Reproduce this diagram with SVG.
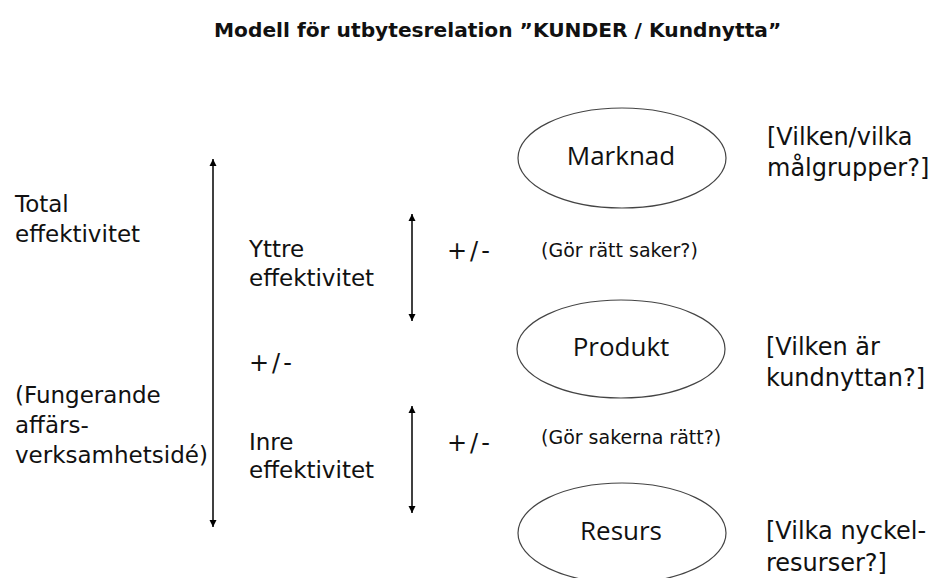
<svg xmlns="http://www.w3.org/2000/svg" width="935" height="578" viewBox="0 0 935 578">
<style>
.t{font-family:"DejaVu Sans","Liberation Sans",sans-serif;fill:#111}
.title{font-size:20.2px;font-weight:bold}
.lbl{font-size:23px}
.side{font-size:24px}
.pm{font-size:24px;letter-spacing:3px}
.q{font-size:19px}
.node ellipse{fill:#fff;stroke:#444;stroke-width:1.2}
.node text{font-family:"Open Sans","Liberation Sans",sans-serif;font-size:26px;fill:#111;text-anchor:middle}
.arr{stroke:#000;stroke-width:1.5;fill:none;marker-start:url(#ah);marker-end:url(#ah)}
</style>
<defs>
<marker id="ah" viewBox="0 0 10 10" refX="10" refY="5" markerWidth="7" markerHeight="8" orient="auto-start-reverse" markerUnits="userSpaceOnUse">
<path d="M0,0 L10,5 L0,10 Z" fill="#000"/>
</marker>
</defs>
<rect width="935" height="578" fill="#fff"/>
<text id="title" class="t title" x="214" y="37">Modell för utbytesrelation ”KUNDER / Kundnytta”</text>

<g id="connectors">
<line class="arr" x1="213" y1="159" x2="213" y2="527"/>
<line class="arr" x1="412" y1="214" x2="412" y2="321"/>
<line class="arr" x1="412" y1="406" x2="412" y2="513"/>
</g>

<g id="marknad" class="node"><ellipse cx="622" cy="158" rx="104" ry="50"/><text x="621" y="165">Marknad</text></g>
<g id="produkt" class="node"><ellipse cx="621" cy="349" rx="104" ry="49"/><text x="621" y="356">Produkt</text></g>
<g id="resurs" class="node"><ellipse cx="622" cy="533" rx="104" ry="50"/><text x="621" y="540">Resurs</text></g>

<g id="total" class="t lbl"><text x="15" y="212">Total</text><text x="15" y="242">effektivitet</text></g>
<g id="idea" class="t lbl"><text x="15" y="403">(Fungerande</text><text x="15" y="433">affärs-</text><text x="15" y="463">verksamhetsidé)</text></g>
<g id="yttre" class="t lbl"><text x="249" y="257">Yttre</text><text x="249" y="286">effektivitet</text></g>
<g id="inre" class="t lbl"><text x="249" y="450">Inre</text><text x="249" y="478">effektivitet</text></g>
<g id="pm" class="t pm"><text x="447" y="259">+/-</text><text x="249" y="371">+/-</text><text x="447" y="451">+/-</text></g>
<g id="questions" class="t q"><text x="541" y="257">(Gör rätt saker?)</text><text x="541" y="444">(Gör sakerna rätt?)</text></g>
<g id="right1" class="t side"><text x="767" y="145">[Vilken/vilka</text><text x="767" y="176">målgrupper?]</text></g>
<g id="right2" class="t side"><text x="766" y="355">[Vilken är</text><text x="766" y="386">kundnyttan?]</text></g>
<g id="right3" class="t side"><text x="766" y="539">[Vilka nyckel-</text><text x="766" y="571">resurser?]</text></g>
</svg>
